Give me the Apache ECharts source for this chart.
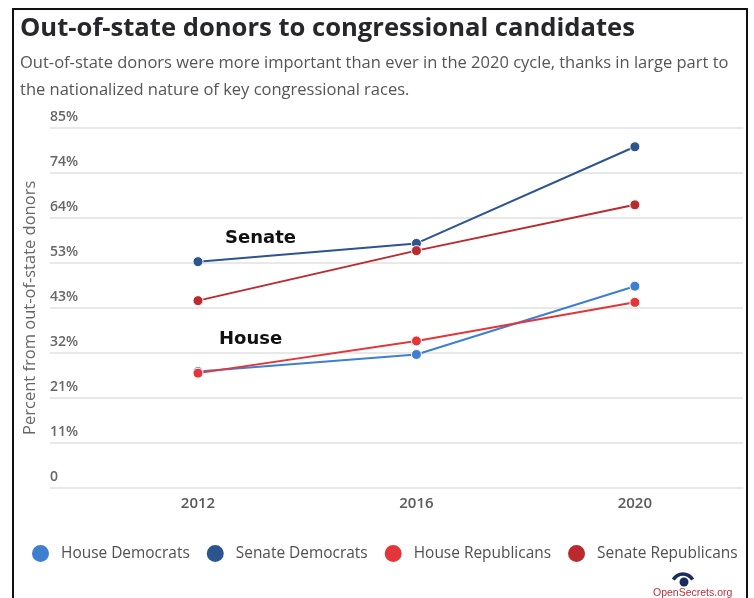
<!DOCTYPE html>
<html>
<head>
<meta charset="utf-8">
<title>Out-of-state donors to congressional candidates</title>
<script src="https://cdn.jsdelivr.net/npm/echarts@6/dist/echarts.min.js"></script>
<style>
  html, body { margin: 0; padding: 0; background: #ffffff; }
  #chart { width: 754px; height: 598px; }
</style>
</head>
<body>
<div id="chart"></div>
<script>
// Election cycles on the x axis
var years = [2012, 2016, 2020];

// Share of contributions coming from out-of-state donors (%)
var houseDemocrats = [27.5, 31.5, 47.6];
var senateDemocrats = [53.4, 57.7, 80.5];
var houseRepublicans = [27.1, 34.7, 43.8];
var senateRepublicans = [44.2, 56.0, 66.8];

var seriesNames = ['House Democrats', 'Senate Democrats', 'House Republicans', 'Senate Republicans'];
var seriesColors = ['#3f7fd0', '#2c5590', '#e2363b', '#bb2a2f'];
var seriesValues = [houseDemocrats, senateDemocrats, houseRepublicans, senateRepublicans];

// Y axis: 0..85 split into eight equal steps, labelled with rounded percents
var yMax = 85;
var yStep = 10.625;
var yTickLabels = ['0', '11%', '21%', '32%', '43%', '53%', '64%', '74%', '85%'];

var FONT = '"Open Sans", "DejaVu Sans", sans-serif';

var chart = echarts.init(document.getElementById('chart'), null, { renderer: 'canvas' });

var series = seriesNames.map(function (name, i) {
  return {
    name: name,
    type: 'line',
    data: years.map(function (y, j) { return [y, seriesValues[i][j]]; }),
    symbol: 'circle',
    symbolSize: 10,
    lineStyle: { color: seriesColors[i], width: 2 },
    itemStyle: { color: seriesColors[i], borderColor: '#ffffff', borderWidth: 1 },
    emphasis: { disabled: true },
    z: 3 + i
  };
});

chart.setOption({
  animation: false,
  backgroundColor: '#ffffff',
  title: [
    {
      text: 'Out-of-state donors to congressional candidates',
      left: 20,
      top: 16,
      padding: 0,
      textStyle: { fontFamily: FONT, fontSize: 25.6, fontWeight: 'bold', color: '#26272b' }
    },
    {
      text: 'Out-of-state donors were more important than ever in the 2020 cycle, thanks in large part to\nthe nationalized nature of key congressional races.',
      left: 20,
      top: 50.5,
      padding: 0,
      textStyle: { fontFamily: FONT, fontSize: 16.5, fontWeight: 'normal', color: '#555555', lineHeight: 26.5 }
    }
  ],
  legend: {
    data: seriesNames,
    left: 30,
    top: 543,
    width: 724,
    padding: 0,
    icon: 'circle',
    itemWidth: 19,
    itemHeight: 19,
    itemGap: 15,
    textStyle: { fontFamily: FONT, fontSize: 15.45, color: '#505050', padding: [0, 0, 0, 6] },
    selectedMode: false
  },
  grid: { left: 50, right: 11, top: 127.7, bottom: 110, containLabel: false },
  xAxis: {
    type: 'value',
    min: 2009.29,
    max: 2021.98,
    axisLine: { show: false },
    axisTick: { show: false },
    splitLine: { show: false },
    axisLabel: {
      customValues: years,
      margin: 8,
      fontFamily: FONT,
      fontSize: 15,
      fontWeight: 600,
      color: '#5a5a5a',
      formatter: function (v) { return String(v); }
    }
  },
  yAxis: {
    type: 'value',
    min: 0,
    max: yMax,
    interval: yStep,
    name: 'Percent from out-of-state donors',
    nameLocation: 'middle',
    nameGap: 10,
    nameTextStyle: { fontFamily: FONT, fontSize: 16.5, color: '#666666' },
    axisLine: { show: false },
    axisTick: { show: false },
    splitLine: { lineStyle: { color: '#e8e8e8', width: 2 } },
    axisLabel: {
      inside: true,
      margin: 0,
      verticalAlign: 'bottom',
      lineHeight: 14,
      padding: [0, 0, 4, 0],
      fontFamily: FONT,
      fontSize: 14,
      fontWeight: 600,
      color: '#666666',
      formatter: function (v, idx) { return yTickLabels[idx]; }
    }
  },
  graphic: [
    {
      type: 'rect',
      shape: { x: 13, y: 9, width: 734, height: 610 },
      style: { fill: 'none', stroke: '#111111', lineWidth: 2 },
      silent: true,
      z: 100
    },
    {
      type: 'text',
      x: 225,
      y: 229,
      style: { text: 'Senate', font: 'bold 18px "DejaVu Sans", sans-serif', fill: '#111111' },
      z: 50
    },
    {
      type: 'text',
      x: 219,
      y: 330,
      style: { text: 'House', font: 'bold 18px "DejaVu Sans", sans-serif', fill: '#111111' },
      z: 50
    },
    {
      type: 'arc',
      shape: { cx: 683, cy: 585, r: 11, startAngle: Math.PI * 1.16, endAngle: Math.PI * 1.84 },
      style: { stroke: '#1b2b62', lineWidth: 3.5, fill: 'none' },
      z: 50
    },
    {
      type: 'circle',
      shape: { cx: 684, cy: 582, r: 4.5 },
      style: { fill: '#1b2b62' },
      z: 50
    },
    {
      type: 'text',
      x: 653,
      y: 588,
      style: { text: 'OpenSecrets.org', font: '10.5px "Liberation Sans", sans-serif', fill: '#b8303c' },
      z: 50
    }
  ],
  series: series
});
</script>
</body>
</html>
